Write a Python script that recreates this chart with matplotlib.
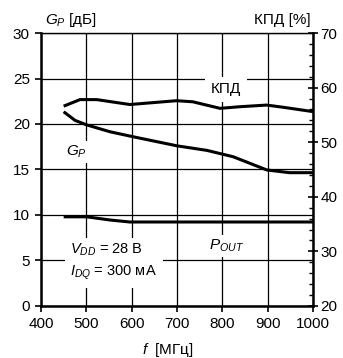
import matplotlib
matplotlib.use("Agg")
import matplotlib.pyplot as plt
from matplotlib.ticker import MultipleLocator

plt.rcParams["font.family"] = ["Liberation Sans", "DejaVu Sans"]
plt.rcParams["mathtext.fontset"] = "custom"
plt.rcParams["mathtext.rm"] = "Liberation Sans"
plt.rcParams["mathtext.it"] = "Liberation Sans:italic"

# efficiency (right axis, %)
eff_f = [450, 486, 523, 596, 640, 699, 735, 795, 839, 898, 934, 1000]
eff_pct = [56.6, 57.8, 57.8, 56.9, 57.2, 57.6, 57.4, 56.2, 56.5, 56.8, 56.4, 55.6]

# power gain (left axis, dB)
gp_f = [450, 475, 501, 552, 603, 700, 766, 824, 898, 948, 1000]
gp_db = [21.35, 20.4, 19.9, 19.15, 18.6, 17.6, 17.1, 16.4, 14.95, 14.65, 14.65]

# output power (left axis scale)
pout_f = [450, 501, 552, 596, 700, 800, 900, 1000]
pout_val = [9.8, 9.8, 9.45, 9.23, 9.23, 9.23, 9.23, 9.23]

x_ticks = [400, 500, 600, 700, 800, 900, 1000]
y_ticks = [0, 5, 10, 15, 20, 25, 30]
y2_ticks = [20, 30, 40, 50, 60, 70]

fig = plt.figure(figsize=(3.43, 3.58), dpi=100)
ax = fig.add_axes([0.1195, 0.1453, 0.793, 0.7625])

ax.set_xlim(400, 1000)
ax.set_ylim(0, 30)
ax.set_xticks(x_ticks)
ax.set_yticks(y_ticks)
ax.tick_params(axis="both", direction="out", length=4, width=1.2, labelsize=11, pad=4)
ax.grid(True, color="black", linewidth=0.9)
ax.set_axisbelow(True)
for s in ["left", "bottom", "right"]:
    ax.spines[s].set_linewidth(1.8)
ax.spines["top"].set_linewidth(1.0)

ax.plot(gp_f, gp_db, color="black", linewidth=2.2, solid_capstyle="butt", zorder=3)
ax.plot(pout_f, pout_val, color="black", linewidth=2.2, solid_capstyle="butt", zorder=3)

ax2 = ax.twinx()
ax2.set_ylim(20, 70)
ax2.set_yticks(y2_ticks)
ax2.yaxis.set_minor_locator(MultipleLocator(2))
ax2.tick_params(axis="y", which="major", direction="inout", length=7, width=1.2, labelsize=11, pad=2)
ax2.tick_params(axis="y", which="minor", direction="in", length=3, width=1.0)
for s in ax2.spines.values():
    s.set_visible(False)
ax2.plot(eff_f, eff_pct, color="black", linewidth=2.2, solid_capstyle="butt", zorder=3)

ax.text(808, 23.8, "КПД", fontsize=11, ha="center", va="center",
        bbox=dict(facecolor="white", edgecolor="none", pad=4), zorder=4)
ax.text(479, 16.9, "$\\mathit{G_P}$", fontsize=11, ha="center", va="center",
        bbox=dict(facecolor="white", edgecolor="none", pad=2), zorder=4)
ax.text(810, 6.6, "$\\mathit{P_{OUT}}$", fontsize=11, ha="center", va="center",
        bbox=dict(facecolor="white", edgecolor="none", pad=2), zorder=4)
ax.text(465, 4.85, "$\\mathit{V_{DD}}$ = 28 В\n$\\mathit{I_{DQ}}$ = 300 мА", fontsize=10.5,
        ha="left", va="center", linespacing=1.55,
        bbox=dict(facecolor="white", edgecolor="none", pad=4), zorder=4)

fig.text(0.13, 0.945, "$\\mathit{G_P}$ [дБ]", fontsize=11, ha="left", va="center")
fig.text(0.905, 0.945, "КПД [%]", fontsize=11, ha="right", va="center")
fig.text(0.49, 0.022, "$\\mathit{f}$  [МГц]", fontsize=11, ha="center", va="center")

fig.savefig("out.png", dpi=100)
